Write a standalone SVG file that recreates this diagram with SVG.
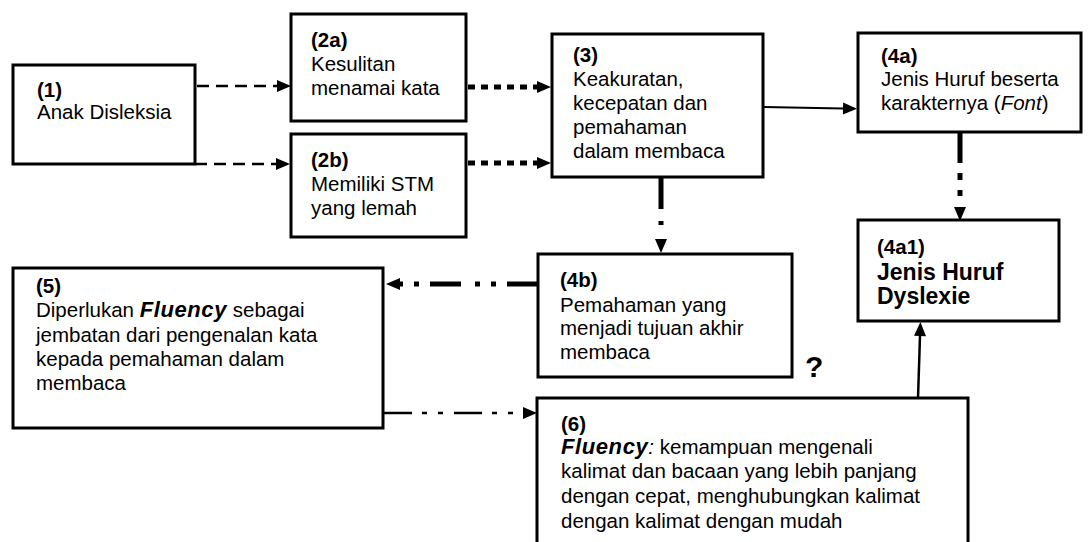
<svg xmlns="http://www.w3.org/2000/svg" width="1091" height="542" viewBox="0 0 1091 542">
<style>
.box{fill:#fff;stroke:#000;stroke-width:3}
.t{font-family:"Liberation Sans",Arial,sans-serif;font-size:20.5px;fill:#000}
.b{font-weight:bold}
.big{font-family:"Liberation Sans",Arial,sans-serif;font-size:23px;font-weight:bold;fill:#000}
.fl{font-weight:bold;font-style:italic;font-size:22px;letter-spacing:0.6px}
.c{fill:none;stroke:#000}
</style>
<defs>
<marker id="ah" markerUnits="userSpaceOnUse" markerWidth="14" markerHeight="12" refX="0" refY="6" orient="auto" overflow="visible">
<path d="M0,0 L14,6 L0,12 Z" fill="#000"/>
</marker>
</defs>
<rect width="1091" height="542" fill="#fff"/>

<g id="connectors">
<line class="c" x1="197" y1="86" x2="277" y2="86" stroke-width="2.5" stroke-dasharray="12 7" marker-end="url(#ah)"/>
<line class="c" x1="195" y1="164" x2="276" y2="164" stroke-width="2.5" stroke-dasharray="12 7" marker-end="url(#ah)"/>
<line class="c" x1="468" y1="87" x2="537" y2="87" stroke-width="5" stroke-dasharray="7 6" marker-end="url(#ah)"/>
<line class="c" x1="468" y1="163" x2="537" y2="163" stroke-width="5" stroke-dasharray="7 6" marker-end="url(#ah)"/>
<line class="c" x1="764" y1="107" x2="843" y2="108.5" stroke-width="2" marker-end="url(#ah)"/>
<line class="c" x1="960" y1="132" x2="960" y2="207" stroke-width="5" stroke-dasharray="31 10 7 10 6 20" marker-end="url(#ah)"/>
<line class="c" x1="661" y1="177" x2="661" y2="239" stroke-width="5" stroke-dasharray="32 12 4 30" marker-end="url(#ah)"/>
<line class="c" x1="538" y1="284" x2="400" y2="284" stroke-width="5" stroke-dasharray="31 11 5 11 5 14" marker-end="url(#ah)"/>
<line class="c" x1="384" y1="413" x2="523" y2="413" stroke-width="2.5" stroke-dasharray="28 10 5 11 5 11" marker-end="url(#ah)"/>
<line class="c" x1="918" y1="398" x2="920" y2="336" stroke-width="2.5" marker-end="url(#ah)"/>
</g>

<g id="node1">
<rect class="box" x="13" y="65" width="182" height="99"/>
<text class="t b" x="37" y="97">(1)</text>
<text class="t" x="37" y="119">Anak Disleksia</text>
</g>

<g id="node2a">
<rect class="box" x="291" y="14" width="175" height="107"/>
<text class="t b" x="311" y="47">(2a)</text>
<text class="t" x="311" y="71">Kesulitan</text>
<text class="t" x="311" y="95">menamai kata</text>
</g>

<g id="node2b">
<rect class="box" x="291" y="134" width="175" height="103"/>
<text class="t b" x="311" y="167">(2b)</text>
<text class="t" x="311" y="191">Memiliki STM</text>
<text class="t" x="311" y="215">yang lemah</text>
</g>

<g id="node3">
<rect class="box" x="552" y="34" width="211" height="143"/>
<text class="t b" x="573" y="62">(3)</text>
<text class="t" x="573" y="86">Keakuratan,</text>
<text class="t" x="573" y="110">kecepatan dan</text>
<text class="t" x="573" y="134">pemahaman</text>
<text class="t" x="573" y="158">dalam membaca</text>
</g>

<g id="node4a">
<rect class="box" x="858" y="33" width="223" height="99"/>
<text class="t b" x="881" y="63">(4a)</text>
<text class="t" x="881" y="86">Jenis Huruf beserta</text>
<text class="t" x="881" y="110">karakternya (<tspan font-style="italic">Font</tspan>)</text>
</g>

<g id="node4a1">
<rect class="box" x="858" y="220" width="201" height="101"/>
<text class="t b" x="877" y="254">(4a1)</text>
<text class="big" x="877" y="280">Jenis Huruf</text>
<text class="big" x="877" y="304">Dyslexie</text>
</g>

<g id="node4b">
<rect class="box" x="538" y="254" width="254" height="123"/>
<text class="t b" x="560" y="287">(4b)</text>
<text class="t" x="560" y="312">Pemahaman yang</text>
<text class="t" x="560" y="335">menjadi tujuan akhir</text>
<text class="t" x="560" y="359">membaca</text>
</g>

<g id="node5">
<rect class="box" x="13" y="268" width="370" height="160"/>
<text class="t b" x="36" y="293">(5)</text>
<text class="t" x="36" y="317">Diperlukan <tspan class="fl">Fluency</tspan> sebagai</text>
<text class="t" x="36" y="342">jembatan dari pengenalan kata</text>
<text class="t" x="36" y="366">kepada pemahaman dalam</text>
<text class="t" x="36" y="390">membaca</text>
</g>

<g id="node6">
<rect class="box" x="537" y="398" width="431" height="170"/>
<text class="t b" x="561" y="431">(6)</text>
<text class="t" x="561" y="454"><tspan class="fl">Fluency</tspan><tspan font-style="italic">:</tspan> kemampuan mengenali</text>
<text class="t" x="561" y="478">kalimat dan bacaan yang lebih panjang</text>
<text class="t" x="561" y="503">dengan cepat, menghubungkan kalimat</text>
<text class="t" x="561" y="528">dengan kalimat dengan mudah</text>
</g>

<g id="question">
<text x="805" y="377" font-family="Liberation Sans, Arial, sans-serif" font-size="30" font-weight="bold">?</text>
</g>
</svg>
